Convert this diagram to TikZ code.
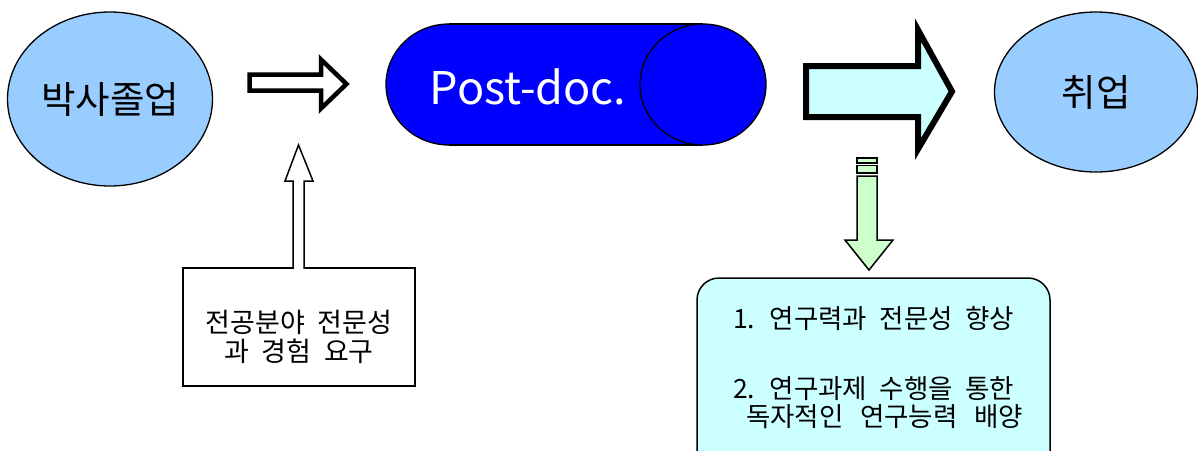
\documentclass[tikz,border=0pt]{standalone}
\usepackage{fontspec}
\setmainfont{Noto Sans CJK KR}[WordSpace=2.1]
\usetikzlibrary{shapes.geometric}
\definecolor{ellblue}{HTML}{99CCFF}
\definecolor{pdblue}{HTML}{0000FF}
\definecolor{lcyan}{HTML}{CCFFFF}
\definecolor{lgreen}{HTML}{CCFFCC}
\tikzset{
  stage/.style={ellipse, draw, line width=1.3pt, fill=ellblue, inner sep=0pt,
    font=\fontsize{37.5}{40}\selectfont},
  thin/.style={line width=1.5pt, line join=miter},
  boxtext/.style={inner sep=0pt, font=\fontsize{26.5}{30}\selectfont},
}
\begin{document}
\begin{tikzpicture}[x=1pt, y=-1pt]
\useasboundingbox (0,0) rectangle (1198,450);

% start and end stages
\node[stage, minimum width=205pt, minimum height=174pt] (phd) at (110,99) {박사졸업};
\node[stage, minimum width=203pt, minimum height=160pt] (job) at (1096,92) {취업};

% Post-doc. drum: body, left half cap, full right cap
\fill[pdblue] (449,24) rectangle (703,145);
\fill[pdblue] (449,84.5) ellipse [x radius=63pt, y radius=60.5pt];
\begin{scope}
  \clip (370,0) rectangle (449,200);
  \draw[line width=1.3pt] (449,84.5) ellipse [x radius=63pt, y radius=60.5pt];
\end{scope}
\draw[line width=1.3pt] (449,24) -- (703,24) (449,145) -- (703,145);
\draw[line width=1.3pt, fill=pdblue] (703,84.5) ellipse [x radius=63pt, y radius=60.5pt];
\node[text=white, inner sep=0pt, font=\fontsize{45}{50}\selectfont] (pd) at (528,87) {Post-doc.};

% hollow arrow into the drum
\draw[line width=4.5pt, line join=miter, fill=white]
  (249.5,74.5) -- (321,74.5) -- (321,59.5) -- (346.5,84) -- (321,108.5)
  -- (321,90.5) -- (249.5,90.5) -- cycle;

% block arrow out of the drum
\draw[line width=6pt, line join=miter, fill=lcyan]
  (806,66) -- (918,66) -- (918,30) -- (952,91.5) -- (918,149)
  -- (918,117) -- (806,117) -- cycle;

% requirement box with its arrow
\node[draw, thin, fill=white, minimum width=232pt, minimum height=118pt] (req) at (299,327) {};
\node[inner sep=0pt, align=center, font=\fontsize{27}{28.5}\selectfont] (reqtext) at (299,337)
  {전공분야 전문성\\과 경험 요구};
\draw[thin, fill=white]
  (293,268.9) -- (293,181) -- (285,181) -- (298.5,145) -- (313,181)
  -- (304,181) -- (304,268.9);

% striped arrow down to the gains box
\draw[thin, fill=lgreen] (857,158) rectangle (877,163);
\draw[thin, fill=lgreen] (857,165.5) rectangle (877,173);
\draw[thin, fill=lgreen]
  (857,176) -- (857,240) -- (845,240) -- (869,270) -- (893,240)
  -- (877,240) -- (877,176) -- cycle;

% gains box
\node[draw, thin, rounded corners=22pt, fill=lcyan, minimum width=353pt, minimum height=197pt]
  (gain) at (873.5,376.5) {};
\node[boxtext, anchor=west] (g1) at (733,318) {1. 연구력과 전문성 향상};
\node[boxtext, anchor=west] (g2) at (733,389) {2. 연구과제 수행을 통한};
\node[boxtext, anchor=west] (g3) at (746,417) {독자적인\hspace{0.15em} 연구능력\hspace{0.15em} 배양};
\end{tikzpicture}
\end{document}
